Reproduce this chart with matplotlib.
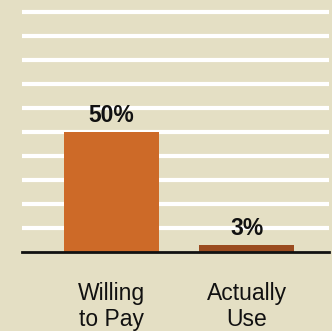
import matplotlib.pyplot as plt

categories = ['Willing\nto Pay', 'Actually\nUse']
shares = [50, 3]
bar_colors = ['#CD6A28', '#9A4B1F']

bg = '#E4DFC4'

fig = plt.figure(figsize=(3.32, 3.31), dpi=100)
fig.patch.set_facecolor(bg)
ax = fig.add_axes([22 / 332, 1 - 252 / 331, 307 / 332, 252 / 331])
ax.set_facecolor(bg)

x = range(len(categories))
bars = ax.bar(x, shares, width=0.7, color=bar_colors, zorder=3)

# value labels above bars
for b, v in zip(bars, shares):
    ax.text(b.get_x() + b.get_width() / 2, v + 4.2, f'{v}%',
            ha='center', va='baseline', fontsize=16.5, fontweight='bold',
            family='Liberation Sans', color='#111111')

ax.set_ylim(0, 105)
ax.set_xlim(-0.663, 1.61)
ax.set_yticks(range(10, 101, 10))
ax.yaxis.grid(True, color='white', linewidth=3)
ax.set_axisbelow(True)
ax.tick_params(axis='y', left=False, labelleft=False)
ax.tick_params(axis='x', bottom=False, pad=18)
ax.set_xticks(list(x))
ax.set_xticklabels(categories, fontsize=16.5, family='Liberation Sans',
                   color='#111111', linespacing=1.15)

for side in ['top', 'right', 'left']:
    ax.spines[side].set_visible(False)
ax.spines['bottom'].set_color('#111111')
ax.spines['bottom'].set_linewidth(2)
ax.spines['bottom'].set_zorder(4)

fig.savefig('out.png', dpi=100, facecolor=bg)
